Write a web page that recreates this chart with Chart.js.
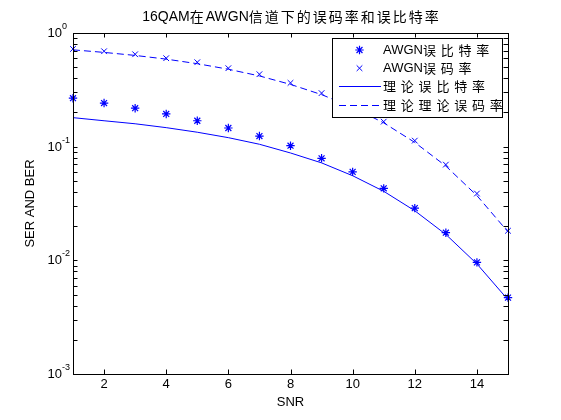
<!DOCTYPE html>
<html>
<head>
<meta charset="utf-8">
<script src="https://cdn.jsdelivr.net/npm/chart.js@4.4.0/dist/chart.umd.min.js"></script>
<style>
  html, body { margin: 0; padding: 0; background: #fff; }
  canvas { display: block; }
</style>
</head>
<body>
<canvas id="grafico" width="561" height="420"></canvas>
<script>
// valores
const snr = [1, 2, 3, 4, 5, 6, 7, 8, 9, 10, 11, 12, 13, 14, 15];
const berSim = [0.267, 0.242, 0.218, 0.194, 0.169, 0.146, 0.124, 0.102, 0.079, 0.060, 0.043, 0.0288, 0.0175, 0.0096, 0.0047];
const serSim = [0.724, 0.691, 0.650, 0.600, 0.553, 0.490, 0.434, 0.364, 0.296, 0.222, 0.166, 0.113, 0.0695, 0.0387, 0.0182];
const berTheory = [0.180, 0.169, 0.159, 0.147, 0.134, 0.120, 0.105, 0.088, 0.072, 0.0555, 0.0405, 0.0273, 0.0169, 0.0093, 0.0045];
const serTheory = [0.711, 0.675, 0.635, 0.589, 0.537, 0.480, 0.419, 0.353, 0.287, 0.222, 0.162, 0.109, 0.0675, 0.0371, 0.0178];

const xTicks = [2, 4, 6, 8, 10, 12, 14];
const yTicks = [0.001, 0.01, 0.1, 1];
const yTickExp = ['-3', '-2', '-1', '0'];
const legendLabels = ['AWGN误比特率', 'AWGN误码率', '理论误比特率', '理论理论误码率'];
const titleText = '16QAM在AWGN信道下的误码率和误比特率';

const blue = '#0000ff';
const latin = '"Liberation Sans", Arial, sans-serif';
const cjk = '"Noto Sans CJK SC", sans-serif';

function pts(vals) {
    return snr.map((s, i) => ({ x: s, y: vals[i] }));
}

// texto mixto: los caracteres chinos van con paso fijo
function drawMixed(ctx, text, x, y, align, latinPx, cjkPx, pitch) {
    const runs = [];
    for (const ch of text) {
        const isCjk = /[\u3400-\u9fff]/.test(ch);
        const last = runs[runs.length - 1];
        if (last && !last.cjk && !isCjk) last.s += ch;
        else runs.push({ s: ch, cjk: isCjk });
    }
    let w = 0;
    runs.forEach((r, i) => {
        if (r.cjk) r.w = (i === runs.length - 1) ? cjkPx : pitch;
        else { ctx.font = latinPx + 'px ' + latin; r.w = ctx.measureText(r.s).width; }
        w += r.w;
    });
    let cx = align === 'center' ? x - w / 2 : x;
    ctx.textAlign = 'left';
    ctx.textBaseline = 'middle';
    runs.forEach(r => {
        ctx.font = r.cjk ? (cjkPx + 'px ' + cjk) : (latinPx + 'px ' + latin);
        ctx.fillText(r.s, cx, y);
        cx += r.w;
    });
}

const marcoPlugin = {
    id: 'marco',
    afterDraw(chart) {
        const { ctx, chartArea: a, scales: { x, y } } = chart;
        ctx.save();
        ctx.strokeStyle = '#000';
        ctx.fillStyle = '#000';
        ctx.lineWidth = 1;
        ctx.setLineDash([]);

        // marco
        ctx.strokeRect(a.left + 0.5, a.top + 0.5, a.right - a.left, a.bottom - a.top);

        const tl = 4.5;
        ctx.beginPath();
        xTicks.forEach(v => {
            const px = Math.round(x.getPixelForValue(v)) + 0.5;
            ctx.moveTo(px, a.bottom); ctx.lineTo(px, a.bottom - tl);
            ctx.moveTo(px, a.top); ctx.lineTo(px, a.top + tl);
        });
        // ticks mayores y menores del eje log
        for (let d = -3; d <= 0; d++) {
            for (let k = 1; k <= 9; k++) {
                if (d === 0 && k > 1) break;
                const v = k * Math.pow(10, d);
                const py = Math.round(y.getPixelForValue(v)) + 0.5;
                ctx.moveTo(a.left, py); ctx.lineTo(a.left + tl, py);
                ctx.moveTo(a.right, py); ctx.lineTo(a.right - tl, py);
            }
        }
        ctx.stroke();

        // etiquetas del eje y con exponente
        yTicks.forEach((v, i) => {
            const py = y.getPixelForValue(v);
            ctx.textAlign = 'right';
            ctx.textBaseline = 'middle';
            ctx.font = '13px ' + latin;
            ctx.fillText('10', 62, py + 0.5);
            ctx.textAlign = 'left';
            ctx.font = '9px ' + latin;
            ctx.fillText(yTickExp[i], 62, py - 6.5);
        });

        // titulo
        drawMixed(ctx, titleText, (a.left + a.right) / 2, 17, 'center', 14, 14, 16);

        // leyenda
        const lx = 332, ly = 38, lw = 170, lh = 79;
        ctx.fillStyle = '#fff';
        ctx.fillRect(lx, ly, lw, lh);
        ctx.strokeStyle = '#000';
        ctx.strokeRect(lx + 0.5, ly + 0.5, lw, lh);
        chart.data.datasets.forEach((ds, i) => {
            const ry = ly + 12 + i * 18.2;
            ctx.strokeStyle = ds.borderColor;
            ctx.fillStyle = ds.borderColor;
            if (ds.showLine === false) {
                ctx.lineWidth = ds.borderWidth;
                ctx.setLineDash([]);
                Chart.helpers.drawPoint(ctx, {
                    pointStyle: ds.pointStyle, radius: ds.pointRadius,
                    rotation: 0, borderWidth: ds.borderWidth
                }, 359.5, ry);
            } else {
                ctx.lineWidth = ds.borderWidth;
                ctx.setLineDash(ds.borderDash || []);
                ctx.beginPath();
                ctx.moveTo(339, Math.round(ry) + 0.5);
                ctx.lineTo(381, Math.round(ry) + 0.5);
                ctx.stroke();
                ctx.setLineDash([]);
            }
            ctx.fillStyle = '#000';
            drawMixed(ctx, legendLabels[i], 383, ry, 'left', 13, 13, 17.8);
        });
        ctx.restore();
    }
};

const ctx = document.querySelector('#grafico').getContext('2d');

const grafico = new Chart(ctx, {
    type: 'line',
    data: {
        datasets: [
            {
                label: legendLabels[0], data: pts(berSim), showLine: false,
                pointStyle: 'star', pointRadius: 4.2, borderWidth: 1.2,
                borderColor: blue, backgroundColor: blue, clip: false
            },
            {
                label: legendLabels[1], data: pts(serSim), showLine: false,
                pointStyle: 'crossRot', pointRadius: 4, borderWidth: 1,
                borderColor: blue, backgroundColor: blue, clip: false
            },
            {
                label: legendLabels[2], data: pts(berTheory),
                pointRadius: 0, borderWidth: 1, tension: 0,
                borderColor: blue, backgroundColor: blue
            },
            {
                label: legendLabels[3], data: pts(serTheory),
                pointRadius: 0, borderWidth: 1, tension: 0, borderDash: [7, 4],
                borderColor: blue, backgroundColor: blue
            }
        ]
    },
    options: {
        responsive: false,
        animation: false,
        devicePixelRatio: 1,
        layout: { padding: { top: 33, right: 53, left: 0, bottom: 0 } },
        plugins: {
            legend: { display: false },
            title: { display: false },
            tooltip: { enabled: false }
        },
        scales: {
            x: {
                type: 'linear',
                min: 1,
                max: 15,
                grid: { display: false, drawTicks: false },
                border: { display: false },
                afterBuildTicks: s => { s.ticks = xTicks.map(v => ({ value: v })); },
                afterFit: s => { s.height = 46; },
                ticks: {
                    color: '#000',
                    padding: 3,
                    maxRotation: 0,
                    font: { family: latin, size: 13 }
                },
                title: {
                    display: true,
                    text: 'SNR',
                    color: '#000',
                    font: { family: latin, size: 13 },
                    padding: { top: 10, bottom: 10 }
                }
            },
            y: {
                type: 'logarithmic',
                min: 0.001,
                max: 1,
                grid: { display: false, drawTicks: false },
                border: { display: false },
                afterBuildTicks: s => { s.ticks = yTicks.map(v => ({ value: v })); },
                afterFit: s => { s.width = 73; },
                ticks: { display: false },
                title: {
                    display: true,
                    text: 'SER AND BER',
                    color: '#000',
                    font: { family: latin, size: 13 },
                    padding: { top: 23, bottom: 23 }
                }
            }
        }
    },
    plugins: [marcoPlugin]
});
</script>
</body>
</html>
